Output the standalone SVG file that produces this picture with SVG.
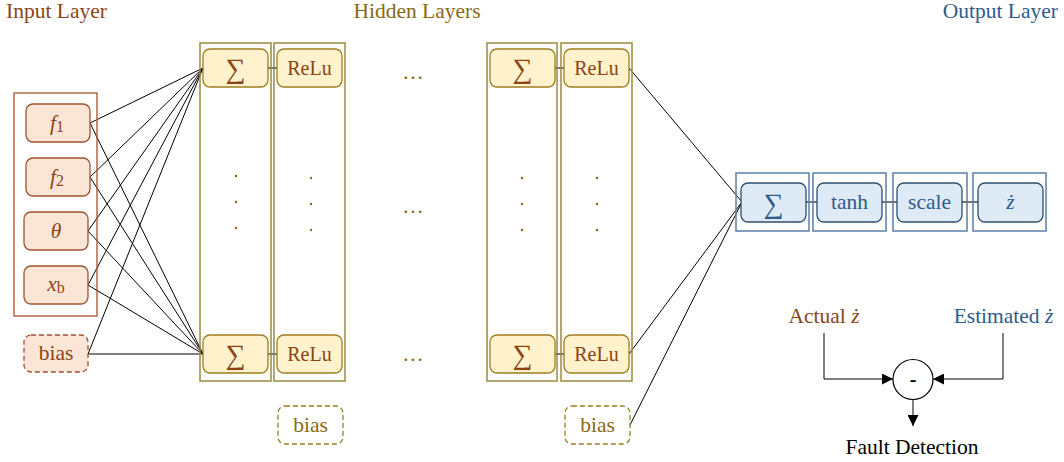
<svg xmlns="http://www.w3.org/2000/svg" width="1064" height="462" viewBox="0 0 1064 462">
<defs>
<style>
text{font-family:"Liberation Serif","Times New Roman",serif;}
.title{font-size:21.5px;}
.lbl{font-size:20px;text-anchor:middle;}
.big{font-size:21.5px;text-anchor:middle;}
.sig{font-size:28px;text-anchor:middle;}
.br{fill:#8B4513;}
.ol{fill:#8B6914;}
.bl{fill:#2E5C8A;}
.inN{fill:#FBE5D6;stroke:#A0522D;stroke-width:1.3;}
.inBox{fill:none;stroke:#A0522D;stroke-width:1.3;}
.hN{fill:#FFF2CC;stroke:#9C7F1E;stroke-width:1.3;}
.hBox{fill:none;stroke:#9C8A3C;stroke-width:1.5;}
.hBias{fill:none;stroke:#9C7F1E;stroke-width:1.3;stroke-dasharray:5 3;}
.inBias{fill:#FBE5D6;stroke:#A0522D;stroke-width:1.3;stroke-dasharray:5 3;}
.oN{fill:#DEEBF7;stroke:#2F4F6F;stroke-width:1.3;}
.oBox{fill:none;stroke:#5A7FA5;stroke-width:1.5;}
.ln{stroke:#000;stroke-width:1;fill:none;}
.sl{stroke:#444;stroke-width:1.5;fill:none;}
.dot{fill:#8B6914;}
</style>
<marker id="arr" viewBox="0 0 10 10" refX="10" refY="5" markerWidth="11" markerHeight="11" markerUnits="userSpaceOnUse" orient="auto">
<path d="M0,0 L10,5 L0,10 z" fill="#000"/>
</marker>
</defs>

<text class="title br" x="6" y="18">Input Layer</text>
<text class="title ol" x="417" y="18" text-anchor="middle">Hidden Layers</text>
<text class="title bl" x="1058" y="18" text-anchor="end">Output Layer</text>

<g id="connectors">
<line class="ln" x1="90" y1="123" x2="203" y2="68"/>
<line class="ln" x1="90" y1="123" x2="203" y2="354"/>
<line class="ln" x1="90" y1="177" x2="203" y2="68"/>
<line class="ln" x1="90" y1="177" x2="203" y2="354"/>
<line class="ln" x1="88" y1="231" x2="203" y2="68"/>
<line class="ln" x1="88" y1="231" x2="203" y2="354"/>
<line class="ln" x1="88" y1="285" x2="203" y2="68"/>
<line class="ln" x1="88" y1="285" x2="203" y2="354"/>
<line class="ln" x1="88" y1="354" x2="203" y2="68"/>
<line class="ln" x1="88" y1="354" x2="203" y2="354"/>
<line class="sl" x1="268" y1="68" x2="277" y2="68"/>
<line class="sl" x1="268" y1="354" x2="277" y2="354"/>
<line class="sl" x1="555" y1="68" x2="564" y2="68"/>
<line class="sl" x1="555" y1="354" x2="564" y2="354"/>
<line class="ln" x1="629" y1="68" x2="742" y2="202"/>
<line class="ln" x1="629" y1="354" x2="742" y2="202"/>
<line class="ln" x1="630" y1="425" x2="742" y2="202"/>
<line class="sl" x1="806" y1="202" x2="817" y2="202"/>
<line class="sl" x1="882" y1="202" x2="897" y2="202"/>
<line class="sl" x1="962" y1="202" x2="978" y2="202"/>
<polyline class="ln" points="824,333 824,379 893,379" marker-end="url(#arr)"/>
<polyline class="ln" points="1003,333 1003,379 933,379" marker-end="url(#arr)"/>
<line class="ln" x1="913" y1="400" x2="913" y2="426" marker-end="url(#arr)"/>
</g>

<g id="input-layer">
<rect class="inBox" x="14" y="93" width="83" height="223"/>
</g>
<g id="in-f1">
<rect class="inN" x="26" y="104" width="64" height="38" rx="7"/>
<text class="big br" x="57" y="130"><tspan font-style="italic">f</tspan><tspan font-size="16" dy="2">1</tspan></text>
</g>
<g id="in-f2">
<rect class="inN" x="26" y="158" width="64" height="38" rx="7"/>
<text class="big br" x="57" y="184"><tspan font-style="italic">f</tspan><tspan font-size="16" dy="2">2</tspan></text>
</g>
<g id="in-theta">
<rect class="inN" x="24" y="212" width="64" height="38" rx="7"/>
<text class="big br" x="56" y="238" font-style="italic">θ</text>
</g>
<g id="in-xb">
<rect class="inN" x="24" y="266" width="64" height="38" rx="7"/>
<text class="big br" x="56" y="291"><tspan font-style="italic">x</tspan><tspan font-size="16" dy="2">b</tspan></text>
</g>
<g id="in-bias">
<rect class="inBias" x="24" y="335" width="64" height="37" rx="7"/>
<text class="big br" x="56" y="360">bias</text>
</g>

<g id="hidden1-sum">
<rect class="hBox" x="200" y="43" width="71" height="338"/>
<rect class="hN" x="203" y="49" width="65" height="38" rx="7"/>
<text class="sig br" x="235.5" y="78">∑</text>
<circle class="dot" cx="236" cy="176" r="1.2"/>
<circle class="dot" cx="236" cy="202" r="1.2"/>
<circle class="dot" cx="236" cy="228" r="1.2"/>
<rect class="hN" x="203" y="335" width="65" height="38" rx="7"/>
<text class="sig br" x="235.5" y="364">∑</text>
</g>
<g id="hidden1-relu">
<rect class="hBox" x="274" y="43" width="71" height="338"/>
<rect class="hN" x="277" y="49" width="65" height="38" rx="7"/>
<text class="lbl br" x="309.5" y="75">ReLu</text>
<circle class="dot" cx="311" cy="178" r="1.2"/>
<circle class="dot" cx="311" cy="204" r="1.2"/>
<circle class="dot" cx="311" cy="230" r="1.2"/>
<rect class="hN" x="277" y="335" width="65" height="38" rx="7"/>
<text class="lbl br" x="309.5" y="361">ReLu</text>
</g>
<g id="hidden1-bias">
<rect class="hBias" x="278" y="406" width="65" height="38" rx="7"/>
<text class="big ol" x="310.5" y="432">bias</text>
</g>

<g id="ellipsis">
<text class="big ol" x="413" y="79">…</text>
<text class="big ol" x="413" y="213">…</text>
<text class="big ol" x="413" y="361">…</text>
</g>

<g id="hidden2-sum">
<rect class="hBox" x="487" y="43" width="70" height="338"/>
<rect class="hN" x="490" y="49" width="65" height="38" rx="7"/>
<text class="sig br" x="522.5" y="78">∑</text>
<circle class="dot" cx="522" cy="178" r="1.2"/>
<circle class="dot" cx="522" cy="204" r="1.2"/>
<circle class="dot" cx="522" cy="230" r="1.2"/>
<rect class="hN" x="490" y="335" width="65" height="38" rx="7"/>
<text class="sig br" x="522.5" y="364">∑</text>
</g>
<g id="hidden2-relu">
<rect class="hBox" x="561" y="43" width="71" height="338"/>
<rect class="hN" x="564" y="49" width="65" height="38" rx="7"/>
<text class="lbl br" x="596.5" y="75">ReLu</text>
<circle class="dot" cx="597" cy="178" r="1.2"/>
<circle class="dot" cx="597" cy="204" r="1.2"/>
<circle class="dot" cx="597" cy="230" r="1.2"/>
<rect class="hN" x="564" y="335" width="65" height="38" rx="7"/>
<text class="lbl br" x="596.5" y="361">ReLu</text>
</g>
<g id="hidden2-bias">
<rect class="hBias" x="565" y="406" width="65" height="38" rx="7"/>
<text class="big ol" x="597.5" y="432">bias</text>
</g>

<g id="out-sum">
<rect class="oBox" x="736" y="173" width="73" height="58"/>
<rect class="oN" x="741" y="183" width="65" height="39" rx="7"/>
<text class="sig bl" x="773.5" y="213">∑</text>
</g>
<g id="out-tanh">
<rect class="oBox" x="813" y="173" width="73" height="58"/>
<rect class="oN" x="817" y="183" width="65" height="39" rx="7"/>
<text class="big bl" x="849.5" y="209">tanh</text>
</g>
<g id="out-scale">
<rect class="oBox" x="893" y="173" width="74" height="58"/>
<rect class="oN" x="897" y="183" width="65" height="39" rx="7"/>
<text class="big bl" x="929.5" y="209">scale</text>
</g>
<g id="out-zdot">
<rect class="oBox" x="973" y="173" width="73" height="58"/>
<rect class="oN" x="978" y="183" width="65" height="39" rx="7"/>
<text class="big bl" x="1010.5" y="209" font-style="italic">ż</text>
</g>

<g id="actual">
<text class="big br" x="824" y="323">Actual <tspan font-style="italic">ż</tspan></text>
</g>
<g id="estimated">
<text class="big bl" x="1003.5" y="323">Estimated <tspan font-style="italic">ż</tspan></text>
</g>
<g id="diff">
<circle cx="913" cy="379.5" r="20" fill="#fff" stroke="#000" stroke-width="1.2"/>
<text x="913" y="386" font-size="20" text-anchor="middle" fill="#000" font-family="Liberation Sans, Arial, sans-serif" font-weight="bold">-</text>
</g>
<g id="fault">
<text class="big" x="912" y="454" fill="#000">Fault Detection</text>
</g>
</svg>
